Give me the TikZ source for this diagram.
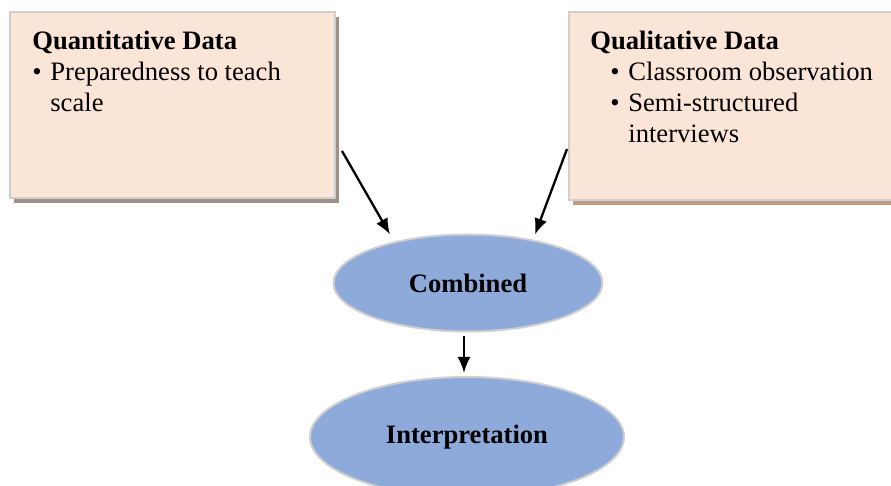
\documentclass[tikz,border=0pt]{standalone}
\usepackage{fontspec}
\setmainfont{Liberation Serif}
\usetikzlibrary{shapes.geometric,shadows,arrows.meta}

\definecolor{boxfill}{HTML}{FBE5D7}
\definecolor{edgegray}{HTML}{CFCFCF}
\definecolor{ellfill}{HTML}{8EAADB}
\definecolor{shadowleft}{HTML}{A0908A}
\definecolor{shadowright}{HTML}{C39C85}

\tikzset{
  databox/.style={draw=edgegray, line width=1pt, fill=boxfill, inner sep=0pt},
  boxtext/.style={anchor=north west, inner sep=0pt, align=left,
    font=\fontsize{13.3pt}{15.5pt}\selectfont},
  stagenode/.style={ellipse, draw=edgegray, line width=1pt, fill=ellfill, inner sep=0pt,
    font=\fontsize{13.3pt}{15.5pt}\selectfont\bfseries},
  flowarrow/.style={line width=1.15pt, -{Latex[length=8pt,width=6.5pt]}},
}

\begin{document}
\begin{tikzpicture}[x=0.5pt, y=-0.5pt]
\useasboundingbox (0,0) rectangle (891,486);
\clip (0,0) rectangle (891,486);

% 两个数据框
\node[databox, minimum width=162.5pt, minimum height=93pt,
  drop shadow={shadow xshift=2pt, shadow yshift=-2.5pt, fill=shadowleft, opacity=1}]
  (quant) at (172.5,105) {};
\node[databox, minimum width=162pt, minimum height=94pt,
  drop shadow={shadow xshift=2pt, shadow yshift=-2.5pt, fill=shadowright, opacity=1}]
  (qual) at (731,106) {};

\node[boxtext] (quanttext) at ([shift={(11.5pt,-10pt)}]quant.north west)
  {\textbf{Quantitative Data}\\
   \makebox[9pt][l]{\textbullet}Preparedness to teach\\
   \hspace*{9pt}scale};
\node[boxtext] (qualtext) at ([shift={(11pt,-10pt)}]qual.north west)
  {\textbf{Qualitative Data}\\
   \hspace*{10pt}\makebox[9pt][l]{\textbullet}Classroom observation\\
   \hspace*{10pt}\makebox[9pt][l]{\textbullet}Semi-structured\\
   \hspace*{19pt}interviews};

% 椭圆
\node[stagenode, minimum width=134.5pt, minimum height=48.5pt] (comb) at (468,283) {Combined};
\node[stagenode, minimum width=157pt, minimum height=60pt] (interp) at (467,437) {Interpretation};

% 箭头
\draw[flowarrow] ([shift={(3pt,24pt)}]quant.south east) -- ([shift={(-39pt,-0.5pt)}]comb.north);
\draw[flowarrow] ([shift={(-0.5pt,26pt)}]qual.south west) -- ([shift={(33.5pt,-0.5pt)}]comb.north);
\draw[flowarrow] ([shift={(-2pt,-2pt)}]comb.south) -- ([shift={(-1.5pt,1.5pt)}]interp.north);
\end{tikzpicture}
\end{document}
